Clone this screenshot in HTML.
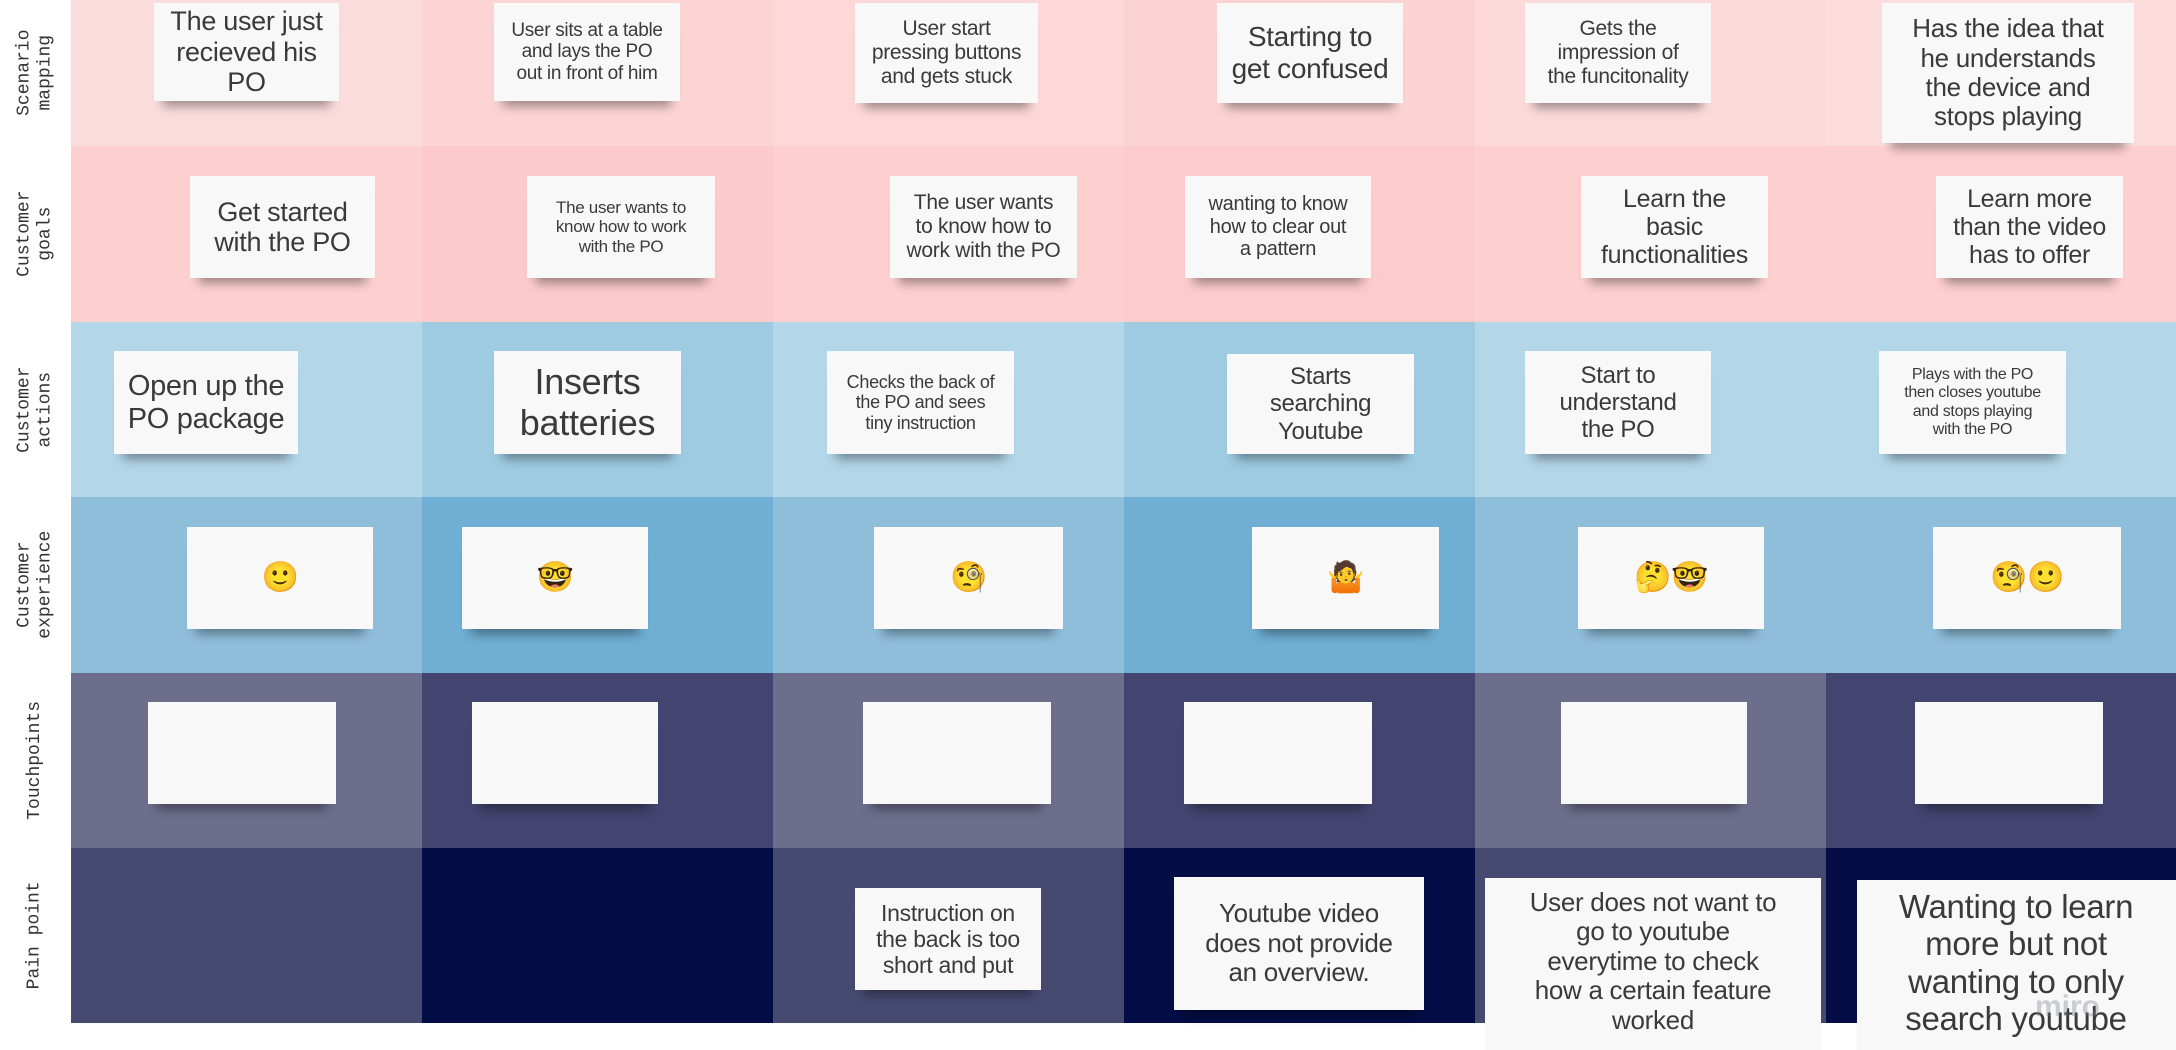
<!DOCTYPE html>
<html><head><meta charset="utf-8"><style>
body{margin:0;width:2176px;height:1046px;background:#fff;position:relative;overflow:hidden;font-family:"Liberation Sans","DejaVu Sans",sans-serif}
.cell{position:absolute}
.note{position:absolute;background:#f8f8f8;display:flex;align-items:center;justify-content:center;text-align:center;color:#3a3a3a;line-height:1.13;box-shadow:0 14px 10px -9px rgba(0,0,0,0.38);box-sizing:border-box;padding:2px;white-space:nowrap;letter-spacing:-0.3px}
.lab{position:absolute;left:0;width:71px;display:flex;align-items:center;justify-content:center}
.lab span{transform:rotate(-90deg);white-space:nowrap;font-family:"Liberation Mono",monospace;font-size:18px;color:#333;line-height:1.15;text-align:center;display:block}
.emo{font-family:"DejaVu Sans",sans-serif;font-size:30px}
</style></head><body>
<div id="grid"></div>
<div class="lab" style="top:0;height:146px"><span>Scenario<br>mapping</span></div>
<div class="lab" style="top:146px;height:176px"><span>Customer<br>goals</span></div>
<div class="lab" style="top:322px;height:175px"><span>Customer<br>actions</span></div>
<div class="lab" style="top:497px;height:176px"><span>Customer<br>experience</span></div>
<div class="lab" style="top:673px;height:175px"><span>Touchpoints</span></div>
<div class="lab" style="top:848px;height:175px"><span>Pain point</span></div>

<div class="note" style="left:154px;top:3px;width:185px;height:98px;font-size:27px">The user just<br>recieved his<br>PO</div>
<div class="note" style="left:494px;top:3px;width:186px;height:98px;font-size:19px">User sits at a table<br>and lays the PO<br>out in front of him</div>
<div class="note" style="left:855px;top:3px;width:183px;height:100px;font-size:21px">User start<br>pressing buttons<br>and gets stuck</div>
<div class="note" style="left:1217px;top:3px;width:186px;height:100px;font-size:28px">Starting to<br>get confused</div>
<div class="note" style="left:1525px;top:3px;width:186px;height:100px;font-size:21px">Gets the<br>impression of<br>the funcitonality</div>
<div class="note" style="left:1882px;top:3px;width:252px;height:140px;font-size:26px">Has the idea that<br>he understands<br>the device and<br>stops playing</div>

<div class="note" style="left:190px;top:176px;width:185px;height:102px;font-size:27px">Get started<br>with the PO</div>
<div class="note" style="left:527px;top:176px;width:188px;height:102px;font-size:17px">The user wants to<br>know how to work<br>with the PO</div>
<div class="note" style="left:890px;top:176px;width:187px;height:102px;font-size:21px">The user wants<br>to know how to<br>work with the PO</div>
<div class="note" style="left:1185px;top:176px;width:186px;height:102px;font-size:20px">wanting to know<br>how to clear out<br>a pattern</div>
<div class="note" style="left:1581px;top:176px;width:187px;height:102px;font-size:25px">Learn the<br>basic<br>functionalities</div>
<div class="note" style="left:1936px;top:176px;width:187px;height:102px;font-size:25px">Learn more<br>than the video<br>has to offer</div>

<div class="note" style="left:114px;top:351px;width:184px;height:103px;font-size:29px">Open up the<br>PO package</div>
<div class="note" style="left:494px;top:351px;width:187px;height:103px;font-size:36px">Inserts<br>batteries</div>
<div class="note" style="left:827px;top:351px;width:187px;height:103px;font-size:18px">Checks the back of<br>the PO and sees<br>tiny instruction</div>
<div class="note" style="left:1227px;top:354px;width:187px;height:100px;font-size:24px">Starts<br>searching<br>Youtube</div>
<div class="note" style="left:1525px;top:351px;width:186px;height:103px;font-size:24px">Start to<br>understand<br>the PO</div>
<div class="note" style="left:1879px;top:351px;width:187px;height:103px;font-size:16px">Plays with the PO<br>then closes youtube<br>and stops playing<br>with the PO</div>

<div class="note emo" style="left:187px;top:527px;width:186px;height:102px">🙂</div>
<div class="note emo" style="left:462px;top:527px;width:186px;height:102px">🤓</div>
<div class="note emo" style="left:874px;top:527px;width:189px;height:102px">🧐</div>
<div class="note emo" style="left:1252px;top:527px;width:187px;height:102px">🤷</div>
<div class="note emo" style="left:1578px;top:527px;width:186px;height:102px">🤔🤓</div>
<div class="note emo" style="left:1933px;top:527px;width:188px;height:102px">🧐🙂</div>

<div class="note" style="left:148px;top:702px;width:188px;height:102px"></div>
<div class="note" style="left:472px;top:702px;width:186px;height:102px"></div>
<div class="note" style="left:863px;top:702px;width:188px;height:102px"></div>
<div class="note" style="left:1184px;top:702px;width:188px;height:102px"></div>
<div class="note" style="left:1561px;top:702px;width:186px;height:102px"></div>
<div class="note" style="left:1915px;top:702px;width:188px;height:102px"></div>

<div class="note" style="left:855px;top:888px;width:186px;height:102px;font-size:23px">Instruction on<br>the back is too<br>short and put</div>
<div class="note" style="left:1174px;top:877px;width:250px;height:133px;font-size:26px">Youtube video<br>does not provide<br>an overview.</div>
<div class="note" style="left:1485px;top:878px;width:336px;height:172px;font-size:26px;align-items:flex-start;padding-top:10px">User does not want to<br>go to youtube<br>everytime to check<br>how a certain feature<br>worked</div>
<div class="note" style="left:1857px;top:880px;width:330px;height:170px;font-size:33px;align-items:flex-start;padding-top:8px;padding-right:14px">Wanting to learn<br>more but not<br>wanting to only<br>search youtube</div>
<div style="position:absolute;left:2035px;top:990px;font-size:30px;color:rgba(120,120,140,0.35);font-weight:bold">miro</div>

<script>
const rowTops=[0,146,322,497,673,848,1023];
const colLefts=[71,422,773,1124,1475,1826,2176];
const rowColors=[
 ['#fbdcdc','#fcd4d4','#fcd8d8','#fcd3d3','#fcdada','#fcdcdc'],
 ['#fdd0d0','#fccaca','#fdcfcf','#fdcbcb','#fdcfcf','#fdcfcf'],
 ['#b3d6e8','#9ecbe2','#b3d6e8','#9ecbe2','#b3d6e8','#b3d6e8'],
 ['#8fbedb','#70aed3','#8fbedb','#70aed3','#8fbedb','#8fbedb'],
 ['#6d6e8c','#43446f','#6d6e8c','#43446f','#6d6e8c','#43446f'],
 ['#464a70','#040d45','#464a70','#040d45','#464a70','#040d45']];
const grid=document.getElementById('grid');
for(let r=0;r<6;r++)for(let c=0;c<6;c++){
 const d=document.createElement('div');
 d.className='cell';
 
 
 d.style.cssText=`left:${colLefts[c]}px;top:${rowTops[r]}px;width:${colLefts[c+1]-colLefts[c]}px;height:${rowTops[r+1]-rowTops[r]}px;background:${rowColors[r][c]}`;
 grid.appendChild(d);
}
</script>
</body></html>
